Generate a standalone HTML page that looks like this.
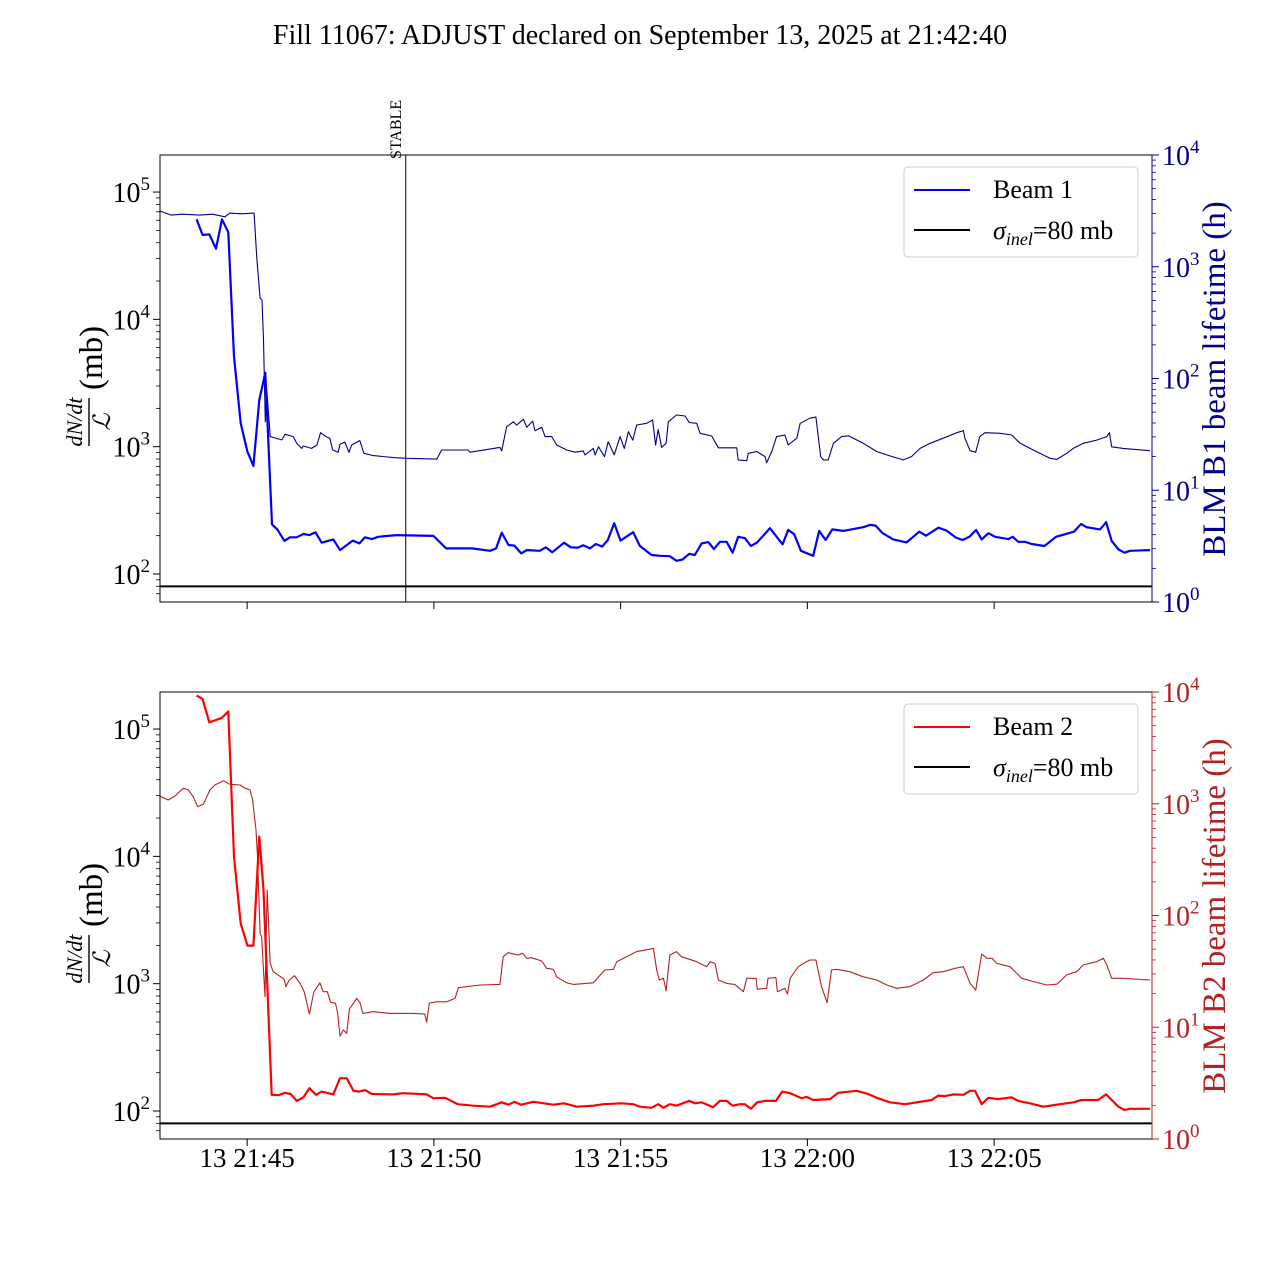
<!DOCTYPE html>
<html><head><meta charset="utf-8">
<style>
html,body{margin:0;padding:0;background:#fff;}
svg{display:block;font-family:"Liberation Serif","DejaVu Serif",serif;}
</style></head>
<body>
<svg id="chart" width="1280" height="1280" viewBox="0 0 1280 1280" xmlns="http://www.w3.org/2000/svg">
<rect width="1280" height="1280" fill="#fff"/>
<text x="640" y="44" font-size="28" text-anchor="middle">Fill 11067: ADJUST declared on September 13, 2025 at 21:42:40</text>
<g id="top"></g>
<g id="bot"></g>
</svg>
<script>
// time in minutes after 21:42:40
const xTickLabels = ["13 21:45","13 21:50","13 21:55","13 22:00","13 22:05"];
const xTickMin = [2.333,7.333,12.333,17.333,22.333];
const stableMin = 6.58;
const sigmaInel = 80;

const b1RateT = [0.98,1.14,1.32,1.50,1.66,1.83,1.98,2.16,2.34,2.50,2.66,2.82,3.00,3.14,3.33,3.48,3.66,3.84,4.00,4.16,4.33,4.64,4.82,5.16,5.34,5.49,5.67,5.84,6.34,7.32,7.66,8.35,8.84,9.00,9.15,9.33,9.49,9.67,9.82,10.17,10.33,10.50,10.82,11.00,11.18,11.33,11.51,11.67,11.84,11.99,12.16,12.33,12.67,12.85,13.16,13.39,13.65,13.83,13.99,14.17,14.32,14.50,14.68,14.83,14.99,15.17,15.33,15.48,15.66,15.82,15.98,16.15,16.33,16.67,16.82,16.98,17.16,17.49,17.65,17.82,18.00,18.29,18.83,19.01,19.16,19.35,19.63,19.99,20.33,20.51,20.84,21.06,21.31,21.49,21.67,21.85,22.00,22.18,22.36,22.71,22.83,22.98,23.16,23.34,23.68,23.99,24.47,24.66,24.81,25.17,25.33,25.48,25.66,25.82,25.97,26.51];
const b1Rate = [61100,46000,46600,35900,61100,48300,5100,1530,914,705,2330,3810,245,224,182,194,194,206,202,213,176,187,154,183,174,194,188,196,202,199,159,159,152,159,211,169,167,145,154,152,162,148,176,162,161,168,159,172,164,185,250,183,213,166,141,139,138,127,130,144,141,174,178,157,179,179,147,196,191,166,176,200,229,171,222,205,152,139,218,185,224,218,233,243,240,209,187,177,215,200,231,219,193,185,196,222,187,209,196,188,196,179,179,172,166,196,215,247,233,224,255,182,156,147,152,154];

const b1LifeT = [0,0.3,0.6,1.07,1.40,1.74,1.87,2.2,2.52,2.59,2.68,2.73,2.77,2.82,2.86,2.95,3.26,3.35,3.57,3.66,3.79,3.84,4.06,4.20,4.30,4.44,4.55,4.62,4.77,4.82,4.95,5.06,5.13,5.35,5.46,5.71,6.25,6.61,7.41,7.54,8.25,8.30,9.10,9.15,9.28,9.46,9.55,9.73,9.82,9.98,10.04,10.22,10.31,10.49,10.62,10.89,11.11,11.33,11.38,11.60,11.65,11.74,11.90,12.00,12.16,12.32,12.43,12.54,12.66,12.76,13.03,13.19,13.27,13.34,13.43,13.55,13.61,13.83,14.06,14.17,14.37,14.46,14.77,14.95,15.44,15.48,15.71,15.75,15.98,16.20,16.24,16.38,16.51,16.73,16.82,17.05,17.14,17.40,17.56,17.69,17.76,17.89,18.03,18.25,18.43,18.83,19.19,19.54,19.90,20.12,20.35,20.62,20.97,21.33,21.51,21.55,21.69,21.84,21.95,22.09,22.49,22.80,23.03,23.38,23.83,24.01,24.28,24.45,24.72,25.08,25.35,25.42,25.48,25.79,26.51];
const b1Life = [3150,2900,2950,2900,2950,2800,3020,2980,3020,1230,522,504,221,41,79,30.2,28.2,31.7,30.2,26.3,23.7,24.9,23.7,25.4,32.7,30.2,29.2,22.9,21.9,25.9,26.9,21.8,25.4,27.8,21.4,20.4,19.6,19.3,19.0,22.9,22.9,21.9,24.2,22.5,37.0,41.0,38.3,43.1,36.6,41.6,34.1,36.6,30.2,30.2,25.4,22.9,21.9,22.5,20.7,23.7,20.7,24.5,20.0,27.2,20.7,30.2,23.7,33.4,28.1,38.4,39.7,42.5,25.4,35.0,24.2,26.3,41.0,47.1,46.2,40.4,39.7,32.3,30.6,24.0,24.0,18.7,18.4,21.4,22.2,20.0,17.6,22.2,30.2,31.2,25.4,29.2,39.7,44.1,45.1,20.0,18.7,18.7,26.3,30.2,30.7,26.3,22.2,20.3,18.7,20.0,23.7,26.3,29.2,32.7,34.1,29.2,22.6,21.9,30.2,32.7,32.3,31.2,26.3,22.9,19.3,18.9,21.4,23.7,26.3,28.1,30.2,32.7,24.5,23.7,22.6];

const b2RateT = [0.98,1.14,1.32,1.65,1.83,1.98,2.16,2.34,2.50,2.66,2.77,2.99,3.17,3.35,3.50,3.66,3.84,4.00,4.18,4.33,4.64,4.82,5.00,5.18,5.34,5.49,5.67,6.25,6.51,7.14,7.32,7.63,7.97,8.39,8.84,9.15,9.33,9.49,9.67,10.00,10.53,10.82,11.16,11.60,11.87,12.36,12.67,12.85,13.16,13.34,13.48,13.65,13.83,14.17,14.32,14.50,14.81,14.99,15.17,15.33,15.53,15.66,15.82,15.99,16.20,16.49,16.66,16.87,17.18,17.31,17.49,17.94,18.16,18.65,18.96,19.19,19.54,19.95,20.66,20.84,21.02,21.24,21.51,21.69,21.82,22.00,22.18,22.44,22.80,22.98,23.29,23.65,24.10,24.47,24.66,25.12,25.33,25.66,25.82,25.97,26.51];
const b2Rate = [183000,172000,113000,122000,137000,9950,2980,1990,1990,14300,5450,134,133,139,136,120,128,151,134,142,135,181,181,144,142,146,136,135,138,135,126,127,113,110,108,117,112,118,112,118,112,115,108,110,113,115,113,108,106,113,106,113,110,120,115,117,107,120,120,110,113,113,104,117,120,120,142,138,126,129,122,124,139,144,136,127,117,113,122,132,131,135,134,144,144,113,127,124,128,120,115,108,113,117,122,122,135,108,102,104,104];

const b2LifeT = [0,0.22,0.40,0.62,0.76,0.89,1.01,1.16,1.34,1.47,1.70,1.87,2.14,2.28,2.41,2.48,2.57,2.61,2.68,2.72,2.81,2.87,2.95,3.03,3.32,3.37,3.46,3.60,3.75,3.86,4.00,4.12,4.28,4.37,4.48,4.57,4.70,4.75,4.82,4.91,5.00,5.07,5.27,5.36,5.43,5.71,6.16,6.78,7.09,7.14,7.21,7.41,7.68,7.90,7.99,8.57,9.10,9.19,9.32,9.59,9.71,9.82,9.95,10.22,10.35,10.53,10.62,10.89,11.07,11.60,11.91,12.14,12.23,12.49,12.76,13.12,13.21,13.30,13.37,13.48,13.55,13.65,13.83,13.96,14.37,14.64,14.73,14.86,14.95,15.17,15.39,15.62,15.71,15.96,15.99,16.24,16.28,16.49,16.53,16.73,16.80,16.87,17.09,17.31,17.40,17.56,17.71,17.86,17.98,18.11,18.47,18.83,19.19,19.46,19.72,20.08,20.44,20.70,20.97,21.29,21.51,21.69,21.84,22.00,22.14,22.28,22.40,22.76,23.07,23.39,23.74,24.01,24.28,24.54,24.72,25.08,25.26,25.35,25.48,25.79,26.51];
const b2Life = [1170,1080,1170,1375,1330,1156,942,989,1330,1472,1608,1494,1472,1375,1330,1080,582,336,69.3,64.6,18.8,169,37.3,31.4,27.0,23.1,26.5,28.9,24.7,20.8,13.1,20.8,25.0,20.8,20.8,16.7,16.4,13.8,8.35,9.45,8.83,14.5,18.2,16.4,13.3,13.8,13.3,13.3,13.1,11.1,16.4,16.9,16.9,18.2,22.6,23.9,24.2,42.8,46.5,44.3,45.9,41.4,41.9,39.2,33.7,33.0,28.3,25.0,24.2,25.0,32.5,33.0,38.6,42.8,47.5,49.9,50.9,32.5,26.5,27.4,21.2,44.3,47.5,42.8,38.6,34.8,38.6,37.2,26.5,24.7,24.2,20.8,27.4,27.4,21.9,22.3,27.4,27.8,20.8,22.3,19.8,27.4,34.8,38.6,40,40,23.1,16.6,32.5,33.0,31.4,28.3,26.5,23.9,22.3,23.1,26.5,30.8,31.4,33.7,34.8,24.7,21.5,45.2,41.4,41.4,37.3,34.8,27.4,25.6,23.9,24.3,29.4,31.4,36.1,38.6,41.4,36.1,27.4,27.4,26.5];

const X0=160, X1=1152, TMAX=26.56;
const LMIN=1.78, LMAX=5.291, H=447;
function xs(t){return X0+(t/TMAX)*(X1-X0);}
function yl(v,top){return top+(LMAX-Math.log10(v))/(LMAX-LMIN)*H;}
function yr(v,top){return top+(4-Math.log10(v))/4*H;}
const NS="http://www.w3.org/2000/svg";
function mk(parent,tag,attrs,text){const e=document.createElementNS(NS,tag);for(const k in attrs)e.setAttribute(k,attrs[k]);if(text!==undefined)e.textContent=text;parent.appendChild(e);return e;}
function path(T,V,f,top){return T.map((t,i)=>(i?"L":"M")+xs(t).toFixed(1)+","+f(V[i],top).toFixed(1)).join("");}

function panel(g,top,opt){
  const clip="clip"+top;
  const cp=mk(g,"clipPath",{id:clip});mk(cp,"rect",{x:X0,y:top,width:X1-X0,height:H});
  const rc=opt.rcol;
  for(let d=0;d<=4;d++){
    const y=yr(Math.pow(10,d),top);
    const tk=mk(g,"line",{x1:X1,x2:X1+7,y1:y,y2:y,stroke:rc,"stroke-width":1});
    
    
    const lb=mk(g,"text",{x:X1+10,y:y+10,fill:rc,"font-size":28});
    
    
    lb.innerHTML='10<tspan dy="-12" font-size="19">'+d+'</tspan>';
    if(d<4)for(let m=2;m<=9;m++){const ym=yr(m*Math.pow(10,d),top);const mt=mk(g,"line",{x1:X1,x2:X1+4,y1:ym,y2:ym,stroke:rc,"stroke-width":0.8});}
  }
  for(let d=2;d<=5;d++){
    const y=yl(Math.pow(10,d),top);
    const tk=mk(g,"line",{x1:X0-7,x2:X0,y1:y,y2:y,stroke:"#000","stroke-width":1});
    
    
    const lb=mk(g,"text",{x:X0-10,y:y+10,"font-size":28,"text-anchor":"end"});
    
    
    lb.innerHTML='10<tspan dy="-12" font-size="19">'+d+'</tspan>';
  }
  for(let d=1;d<=5;d++)for(let m=2;m<=9;m++){const v=m*Math.pow(10,d);const lv=Math.log10(v);if(lv<LMIN||lv>LMAX)continue;const ym=yl(v,top);const mt=mk(g,"line",{x1:X0-4,x2:X0,y1:ym,y2:ym,stroke:"#000","stroke-width":0.8});}
  xTickMin.forEach((t,i)=>{
    const x=xs(t);
    const tk=mk(g,"line",{x1:x,x2:x,y1:top+H,y2:top+H+7,stroke:"#000","stroke-width":1});
    
    
    if(opt.xlabels){const lb=mk(g,"text",{x:x,y:top+H+28,"font-size":27,"text-anchor":"middle"},xTickLabels[i]);}
  });
  const cg=mk(g,"g",{"clip-path":"url(#"+clip+")"});
  const life=mk(cg,"path",{d:path(opt.lt,opt.lv,yr,top),fill:"none",stroke:rc,"stroke-width":1.1,"stroke-linejoin":"round"});
  
  
  const rate=mk(cg,"path",{d:path(opt.rt,opt.rv,yl,top),fill:"none",stroke:opt.col,"stroke-width":2.2,"stroke-linejoin":"round"});
  
  
  const ys=yl(sigmaInel,top);
  const sl=mk(cg,"line",{x1:X0,x2:X1,y1:ys,y2:ys,stroke:"#000","stroke-width":2});
  
  
  if(opt.stable){
    const sx=xs(stableMin);
    const st=mk(g,"line",{x1:sx,x2:sx,y1:top,y2:top+H,stroke:"#000","stroke-width":1});
    
    
    const stt=mk(g,"text",{x:0,y:0,"font-size":16,transform:"translate("+(sx-5)+","+(top+4)+") rotate(-90)"},"STABLE");
    
    
  }
  const fr=mk(g,"rect",{x:X0,y:top,width:X1-X0,height:H,fill:"none",stroke:"#000","stroke-width":1});
  
  
  const rs=mk(g,"line",{x1:X1,x2:X1,y1:top,y2:top+H,stroke:rc,"stroke-width":1});
  
  
  const lg=mk(g,"g",{});
  
  
  mk(lg,"rect",{x:904,y:top+12,width:234,height:90,rx:4,fill:"#fff","fill-opacity":0.8,stroke:"#ccc","stroke-width":1});
  const e1=mk(lg,"g",{});
  
  
  mk(e1,"line",{x1:914,x2:970,y1:top+35,y2:top+35,stroke:opt.col,"stroke-width":2});
  mk(e1,"text",{x:993,y:top+43,"font-size":26},opt.beamLabel);
  const e2=mk(lg,"g",{});
  
  
  mk(e2,"line",{x1:914,x2:970,y1:top+75,y2:top+75,stroke:"#000","stroke-width":2});
  const t2=mk(e2,"text",{x:993,y:top+84,"font-size":26});
  t2.innerHTML='<tspan font-style="italic">σ</tspan><tspan font-style="italic" font-size="18" dy="6">inel</tspan><tspan dy="-6">=80 mb</tspan>';
  const ll=mk(g,"g",{transform:"translate(95,"+(top+225)+") rotate(-90)"});
  
  
  mk(ll,"text",{x:-42,y:-13,"font-size":22,"font-style":"italic","text-anchor":"middle"},"dN/dt");
  mk(ll,"line",{x1:-66,x2:-18,y1:-6,y2:-6,stroke:"#000","stroke-width":1.4});
  mk(ll,"text",{x:-42,y:15,"font-size":24,"font-style":"italic","text-anchor":"middle"},"ℒ");
  mk(ll,"text",{x:-10,y:7,"font-size":33},"(mb)");
  const rl=mk(g,"text",{"font-size":33,fill:rc,"text-anchor":"middle",transform:"translate(1225,"+(top+224)+") rotate(-90)"},opt.rlabel);
  
  
}
panel(document.getElementById("top"),155,{rcol:"#00008b",col:"#0000ff",rt:b1RateT,rv:b1Rate,lt:b1LifeT,lv:b1Life,stable:true,xlabels:false,beamLabel:"Beam 1",rlabel:"BLM B1 beam lifetime (h)",lifeName:"b1-lifetime-line",rateName:"b1-loss-rate-line"});
panel(document.getElementById("bot"),692,{rcol:"#b22222",col:"#ff0000",rt:b2RateT,rv:b2Rate,lt:b2LifeT,lv:b2Life,stable:false,xlabels:true,beamLabel:"Beam 2",rlabel:"BLM B2 beam lifetime (h)",lifeName:"b2-lifetime-line",rateName:"b2-loss-rate-line"});
</script>
</body></html>
